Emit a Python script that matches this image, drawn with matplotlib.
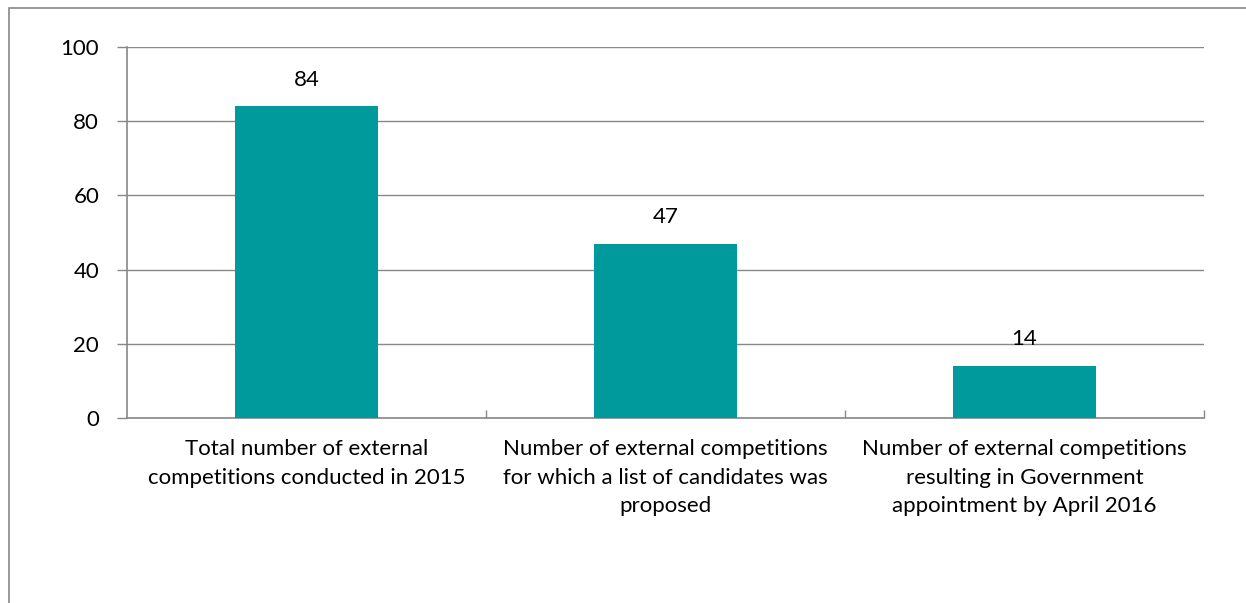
import matplotlib
matplotlib.use("Agg")
from matplotlib import pyplot as plt
from matplotlib.patches import Rectangle

categories = [
    "Total number of external\ncompetitions conducted in 2015",
    "Number of external competitions\nfor which a list of candidates was\nproposed",
    "Number of external competitions\nresulting in Government\nappointment by April 2016",
]
values = [84, 47, 14]
y_ticks = [0, 20, 40, 60, 80, 100]

bar_color = "#009A9C"
line_color = "#888888"

plt.rcParams["font.family"] = ["Lato", "DejaVu Sans"]

fig = plt.figure(figsize=(12.46, 6.03), dpi=100)
ax = fig.add_axes([127 / 1246, 1 - 418 / 603, (1204 - 127) / 1246, (418 - 47) / 603])

x = list(range(len(values)))
bars = ax.bar(x, values, width=0.4, color=bar_color, zorder=3)

for xi, v in zip(x, values):
    ax.annotate(str(v), (xi, v), xytext=(0, 12), textcoords="offset points",
                ha="center", va="bottom", fontsize=16, color="#000000")

ax.set_xlim(-0.5, len(values) - 0.5)
ax.set_ylim(0, 100)
ax.set_yticks(y_ticks)
ax.yaxis.grid(True, color=line_color, linewidth=1.0, zorder=0)

# category boundary ticks on the x axis
ax.set_xticks([i + 0.5 for i in x[:-1]] + [len(values) - 0.5])
ax.set_xticklabels([])
ax.tick_params(axis="x", direction="in", length=6, width=1.0, color=line_color)
ax.set_xticks(x, minor=True)
ax.set_xticklabels(categories, minor=True, fontsize=16, linespacing=1.55)
ax.tick_params(axis="x", which="minor", length=0, pad=15)
ax.tick_params(axis="y", direction="out", length=7, width=1.0, color=line_color,
               labelsize=16, pad=13)

for side in ["top", "right"]:
    ax.spines[side].set_visible(False)
for side in ["left", "bottom"]:
    ax.spines[side].set_color(line_color)
    ax.spines[side].set_linewidth(1.2)

# outer chart frame (partly cropped off the image)
fig.patches.append(Rectangle((9 / 1246, -0.2), 1.5, 1 - 8 / 603 + 0.2,
                             transform=fig.transFigure, fill=False,
                             edgecolor=line_color, linewidth=1.2))

fig.savefig("out.png", dpi=100)
